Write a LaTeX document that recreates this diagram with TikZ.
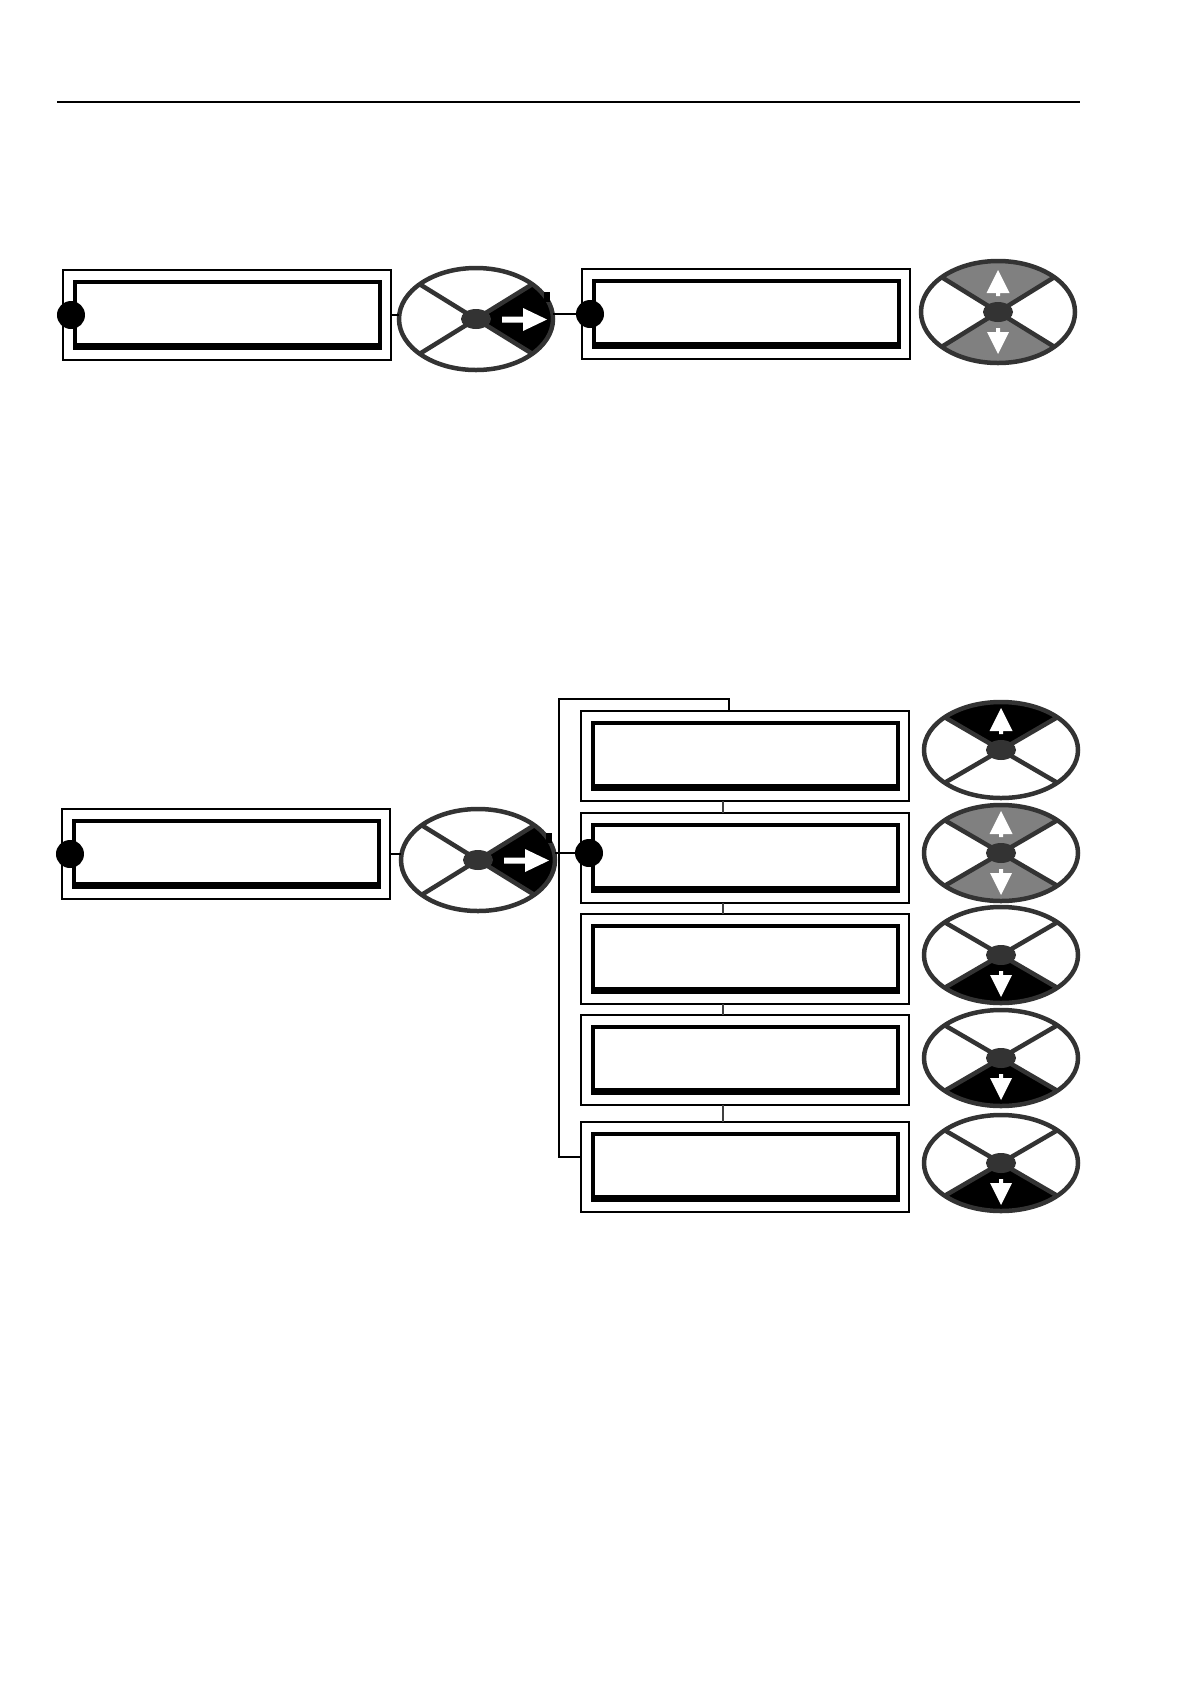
\documentclass[tikz,border=0pt]{standalone}
\usetikzlibrary{shapes.geometric}
\definecolor{keyrim}{gray}{0.2}
\definecolor{keyshade}{gray}{0.5}

\begin{document}
\begin{tikzpicture}[x=0.5bp, y=-0.5bp,
    panel/.style={draw, line width=0.75bp, inner sep=0pt, outer sep=0pt,
                  minimum width=164bp, minimum height=45bp},
    cursor/.style={circle, fill, inner sep=0pt, minimum size=14bp},
    keypad/.style={ellipse, inner sep=0pt, outer sep=0pt, minimum width=77bp},
    rim/.style={draw=keyrim, line width=2.25bp},
    link/.style={line width=0.75bp}]
    \useasboundingbox (0,0) rectangle (1190,1684);
    \draw[line width=0.75bp] (57,102) -- (1080,102);

    % display frames
    \node[panel] (a1) at (227,315) {};
    \node[panel] (a2) at (746,314) {};
    \node[panel] (b0) at (226,854) {};
    \foreach \i/\y in {1/756, 2/858, 3/959, 4/1060, 5/1167}
        \node[panel] (b\i) at (745,\y) {};
    \foreach \b in {a1,a2,b0,b1,b2,b3,b4,b5} {
        \fill ([shift={(10,10)}]\b.north west) rectangle ([shift={(-9,-10)}]\b.south east);
        \fill[white] ([shift={(14,14)}]\b.north west) rectangle ([shift={(-13,-17)}]\b.south east);
    }
    \node[cursor] (d1) at ([xshift=4bp]a1.west) {};
    \node[cursor] (d2) at ([xshift=4bp]a2.west) {};
    \node[cursor] (d3) at ([xshift=4bp]b0.west) {};
    \node[cursor] (d4) at ([xshift=4bp, yshift=2.5bp]b2.west) {};

    % keypads: name/x/y/y radius/up/down/right
    \foreach \n/\x/\y/\ry/\up/\dn/\rt in {
        ka/476/319/51/white/white/black,
        kt/998/312/51/keyshade/keyshade/white,
        kb/478/860/51/white/white/black,
        k1/1001/750/48/black/white/white,
        k2/1001/853/48/keyshade/keyshade/white,
        k3/1001/955/48/white/black/white,
        k4/1001/1058/48/white/black/white,
        k5/1001/1163/48/white/black/white} {
        \fill[\rt] (\x,\y) -- ++(-43:77 and \ry) arc[start angle=-43, end angle=43, x radius=77, y radius=\ry] -- cycle;
        \fill[\dn] (\x,\y) -- ++(43:77 and \ry) arc[start angle=43, end angle=137, x radius=77, y radius=\ry] -- cycle;
        \fill[\up] (\x,\y) -- ++(223:77 and \ry) arc[start angle=223, end angle=317, x radius=77, y radius=\ry] -- cycle;
        \fill[white, shift={(\x,\y)}] (0,-42) -- (11.5,-19) -- (2,-19) -- (2,-16) -- (-2,-16) -- (-2,-19) -- (-11.5,-19) -- cycle;
        \fill[white, shift={(\x,\y)}] (0,42) -- (11,20) -- (2,20) -- (2,16) -- (-2,16) -- (-2,20) -- (-11,20) -- cycle;
        \fill[white, shift={(\x,\y)}] (26,-2.5) -- (47,-2.5) -- (47,-11) -- (71,0.5) -- (47,12) -- (47,3.5) -- (26,3.5) -- cycle;
        \node[keypad, minimum height=\ry bp] (\n) at (\x,\y) {};
        \draw[rim] (\n.center) ellipse [x radius=77, y radius=\ry];
        \draw[rim] (\n.center) -- ++(43:77 and \ry) (\n.center) -- ++(137:77 and \ry)
                   (\n.center) -- ++(223:77 and \ry) (\n.center) -- ++(317:77 and \ry);
        \fill[keyrim] (\n.center) ellipse [x radius=15, y radius=10];
    }
    \fill (ka.center) ++(68,-27) rectangle ++(6,10);
    \fill (kb.center) ++(68,-27) rectangle ++(6,10);

    % connectors
    \coordinate (bl) at (559,1157);
    \draw[link] (a1.east) -- (a1.east -| ka.west);
    \draw[link] (ka.east |- d2) -- (d2);
    \draw[link] (b0.east) -- (b0.east -| kb.west);
    \draw[link] (kb.east |- d4) -- (d4);
    \draw[link] ([xshift=-8bp]b1.north) -- ++(0,-12) -| (bl) -- (bl -| b5.west);
    \foreach \i/\j in {1/2, 2/3, 3/4, 4/5}
        \draw[link, black!75] ([xshift=-11bp]b\i.south) -- ([xshift=-11bp]b\j.north);
\end{tikzpicture}
\end{document}
